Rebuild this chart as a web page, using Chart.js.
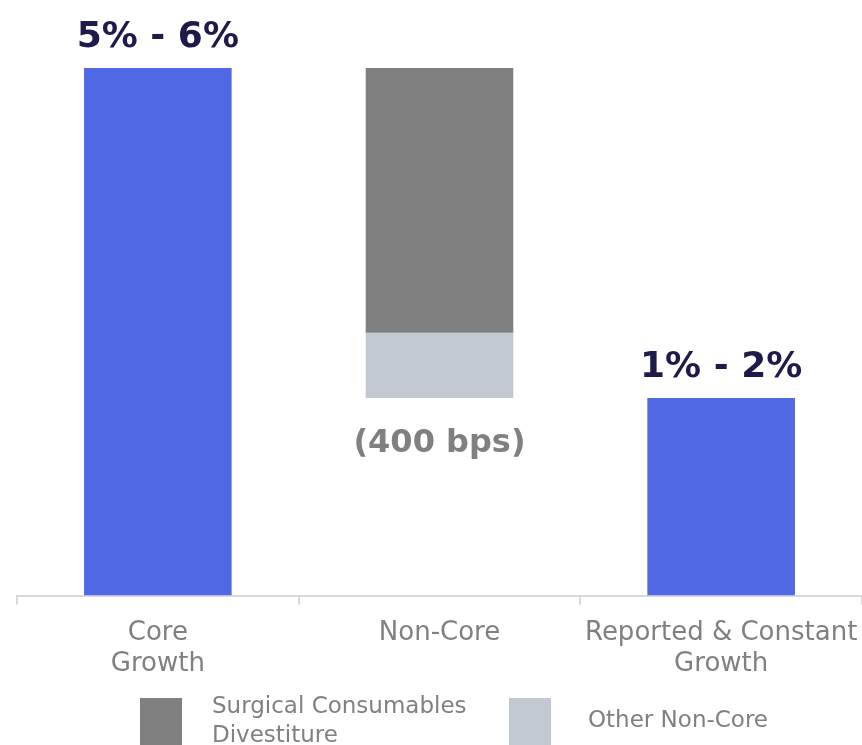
<!DOCTYPE html>
<html>
<head>
<meta charset="utf-8">
<script src="https://cdn.jsdelivr.net/npm/chart.js@4/dist/chart.umd.min.js"></script>
<style>
  html, body { margin: 0; padding: 0; background: #ffffff; }
  #wrap { width: 862px; height: 745px; position: relative; }
</style>
</head>
<body>
<div id="wrap"><canvas id="bridge"></canvas></div>
<script>
'use strict';

// categories on the x axis (multi-line)
const categories = [['Core', 'Growth'], ['Non-Core'], ['Reported & Constant', 'Growth']];

// floating bars, [start, end] in % growth (schematic scale)
const growthBars = [[0, 5.5], null, [0, 2.06]];
const surgicalBars = [null, [2.74, 5.5], null];
const otherBars = [null, [2.06, 2.74], null];

// text printed on the bars
const valueLabels = ['5% - 6%', '(400 bps)', '1% - 2%'];

const seriesNames = ['Growth', 'Surgical Consumables\nDivestiture', 'Other Non-Core'];

const BLUE = '#5068E4';
const DARK_GREY = '#808080';
const LIGHT_GREY = '#C1C8CF';
const NAVY = '#1E1A4B';
const FONT = '"DejaVu Sans", sans-serif';


// labels above / below the bars
const barLabels = {
    id: 'barLabels',
    afterDatasetsDraw(chart) {
        const ctx = chart.ctx;
        ctx.save();
        ctx.textAlign = 'center';
        categories.forEach((cat, j) => {
            if (growthBars[j]) {
                const el = chart.getDatasetMeta(0).data[j];
                ctx.font = 'bold 36px ' + FONT;
                ctx.fillStyle = NAVY;
                ctx.textBaseline = 'alphabetic';
                ctx.fillText(valueLabels[j], el.x, el.y - 21);
            } else {
                const el = chart.getDatasetMeta(2).data[j];
                ctx.font = 'bold 32px ' + FONT;
                ctx.fillStyle = DARK_GREY;
                ctx.textBaseline = 'top';
                ctx.fillText(valueLabels[j], el.x, el.base + 30);
            }
        });
        ctx.restore();
    }
};

// square legend at the bottom
const boxLegend = {
    id: 'boxLegend',
    afterDraw(chart) {
        const ctx = chart.ctx;
        const items = [
            { name: seriesNames[1], color: DARK_GREY, x: 140 },
            { name: seriesNames[2], color: LIGHT_GREY, x: 509 }
        ];
        ctx.save();
        ctx.font = '23px ' + FONT;
        ctx.textBaseline = 'middle';
        ctx.textAlign = 'left';
        items.forEach((it) => {
            ctx.fillStyle = it.color;
            ctx.fillRect(it.x, 698, 42, 47);
            ctx.fillStyle = DARK_GREY;
            const lines = it.name.split('\n');
            if (lines.length == 1) {
                ctx.fillText(lines[0], it.x + 79, 721);
            } else {
                ctx.fillText(lines[0], it.x + 72, 707);
                ctx.fillText(lines[1], it.x + 72, 736);
            }
        });
        ctx.restore();
    }
};


new Chart(document.getElementById('bridge').getContext('2d'), {
    type: 'bar',
    data: {
        labels: categories,
        datasets: [
            { label: seriesNames[0], data: growthBars, backgroundColor: BLUE },
            { label: seriesNames[1], data: surgicalBars, backgroundColor: DARK_GREY },
            { label: seriesNames[2], data: otherBars, backgroundColor: LIGHT_GREY }
        ]
    },
    options: {
        responsive: true,
        maintainAspectRatio: false,
        animation: false,
        events: [],
        categoryPercentage: 1,
        barPercentage: 0.524,
        layout: { padding: { left: 17, right: 0, top: 68, bottom: 52 } },
        plugins: { legend: { display: false }, tooltip: { enabled: false } },
        scales: {
            x: {
                stacked: true,
                afterFit(scale) {
                    // the wide last label may hang over the edge, like the original
                    scale.paddingLeft = 0;
                    scale.paddingRight = 0;
                },
                grid: {
                    offset: true,
                    drawOnChartArea: false,
                    tickLength: 9,
                    color: '#D9D9D9',
                    lineWidth: 2
                },
                border: { color: '#D9D9D9', width: 2 },
                ticks: {
                    color: DARK_GREY,
                    font: { family: FONT, size: 26, lineHeight: 1.2 },
                    padding: 13,
                    maxRotation: 0,
                    autoSkip: false
                }
            },
            y: {
                display: false,
                stacked: false,
                min: 0,
                max: 5.5
            }
        }
    },
    plugins: [barLabels, boxLegend]
});
</script>
</body>
</html>
